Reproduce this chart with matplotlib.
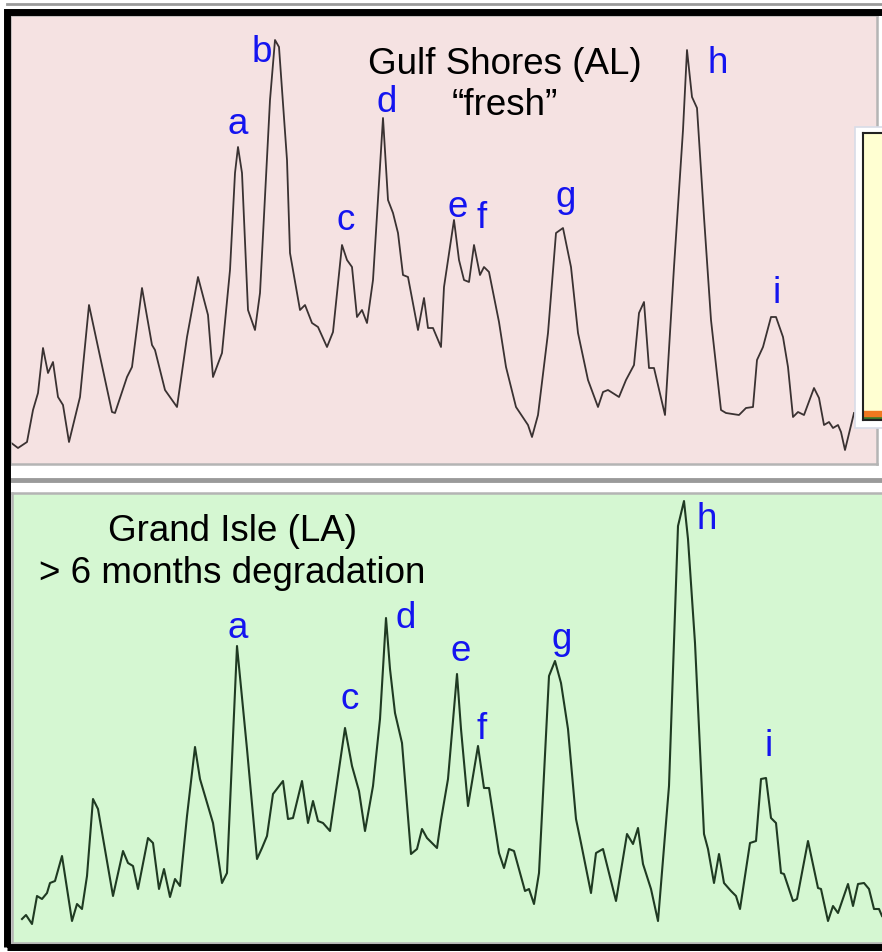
import matplotlib
matplotlib.use("Agg")
import matplotlib.pyplot as plt
from matplotlib.patches import Rectangle

plt.rcParams["font.family"] = ["Liberation Sans", "DejaVu Sans"]

# scan position and signal height for the two chromatograms
fresh_scan = [10, 18, 27, 33, 38, 43, 48, 53, 58, 63,
              69, 80, 89, 98, 112, 115, 127, 132, 142, 152,
              155, 165, 177, 187, 198, 208, 213, 222, 230, 235,
              238, 242, 248, 255, 260, 270, 275, 279, 287, 290,
              300, 305, 312, 318, 327, 333, 342, 347, 352, 357,
              362, 367, 373, 383, 388, 393, 398, 403, 408, 418,
              424, 428, 433, 441, 444, 454, 459, 464, 469, 474,
              480, 484, 489, 499, 506, 516, 528, 532, 538, 548,
              556, 563, 571, 578, 588, 598, 603, 608, 619, 626,
              634, 639, 644, 649, 654, 665, 674, 683, 687, 692,
              697, 704, 711, 721, 726, 739, 746, 753, 757, 763,
              771, 776, 783, 788, 793, 798, 804, 814, 819, 824,
              829, 833, 838, 841, 845, 854]
fresh_signal = [22, 16, 22, 54, 71, 116, 91, 102, 67, 59,
                22, 67, 159, 117, 52, 51, 87, 97, 176, 119,
                114, 74, 57, 127, 187, 149, 87, 111, 194, 291,
                317, 291, 154, 134, 171, 364, 424, 417, 304, 211,
                154, 159, 141, 137, 117, 132, 219, 204, 197, 147,
                154, 141, 184, 346, 264, 251, 231, 189, 187, 134,
                166, 136, 136, 117, 177, 244, 204, 184, 182, 219,
                189, 197, 192, 142, 97, 57, 39, 27, 49, 131,
                231, 236, 197, 131, 84, 57, 72, 74, 67, 84,
                99, 151, 162, 96, 96, 49, 197, 334, 414, 367,
                356, 247, 144, 54, 51, 49, 56, 57, 104, 117,
                147, 147, 127, 97, 47, 52, 49, 76, 66, 39,
                42, 36, 39, 32, 14, 51]

aged_scan = [22, 26, 32, 37, 42, 47, 50, 55, 62, 72,
             77, 82, 87, 93, 98, 113, 123, 128, 133, 138,
             148, 153, 159, 164, 170, 175, 180, 187, 195, 200,
             213, 222, 227, 237, 247, 257, 262, 267, 273, 283,
             288, 293, 302, 308, 313, 318, 323, 330, 345, 352,
             359, 365, 373, 380, 386, 390, 395, 402, 411, 417,
             422, 427, 437, 441, 448, 457, 461, 468, 478, 484,
             489, 499, 504, 509, 514, 525, 529, 534, 539, 549,
             555, 561, 568, 576, 581, 591, 596, 603, 616, 627,
             633, 638, 643, 651, 658, 669, 678, 684, 688, 695,
             704, 708, 714, 719, 724, 731, 736, 740, 750, 756,
             761, 766, 771, 776, 781, 784, 793, 797, 808, 818,
             821, 828, 833, 838, 848, 853, 858, 864, 869, 874,
             879, 882]
aged_signal = [24, 28, 19, 47, 44, 50, 60, 62, 87, 22,
               39, 34, 67, 144, 134, 47, 92, 80, 77, 54,
               105, 100, 54, 74, 46, 64, 57, 127, 196, 164,
               120, 60, 70, 297, 194, 84, 95, 107, 149, 162,
               124, 125, 162, 120, 142, 122, 120, 112, 215, 177,
               152, 112, 157, 224, 325, 274, 230, 200, 89, 94,
               114, 105, 95, 123, 164, 269, 214, 137, 197, 155,
               155, 90, 75, 94, 92, 52, 54, 39, 70, 267,
               282, 260, 214, 124, 100, 50, 90, 94, 42, 109,
               99, 115, 79, 54, 22, 157, 417, 442, 404, 300,
               109, 94, 60, 89, 60, 52, 47, 34, 100, 102,
               164, 165, 125, 120, 70, 69, 42, 44, 102, 55,
               54, 22, 37, 30, 59, 37, 59, 60, 54, 34,
               34, 27]

# peak letters and where they sit
fresh_peaks = ["a", "b", "c", "d", "e", "f", "g", "h", "i"]
fresh_peak_pos = [(238, 330), (262, 402), (346, 234), (387, 352), (458, 247),
                  (482, 236), (566, 257), (718, 391), (777, 161)]
aged_peaks = ["a", "c", "d", "e", "f", "g", "h", "i"]
aged_peak_pos = [(238, 305), (350, 234), (406, 315), (461, 282), (482, 204),
                 (562, 294), (707, 414), (769, 187)]

W, H = 882, 952
fig = plt.figure(figsize=(W / 100, H / 100), dpi=100)
fig.patch.set_facecolor("white")


def px_rect(x0, y0, x1, y1):
    # figure-fraction rect from pixel box (y measured from the top)
    return [x0 / W, (H - y1) / H, (x1 - x0) / W, (y1 - y0) / H]


def style_panel(ax, face):
    ax.set_facecolor(face)
    ax.set_xticks([])
    ax.set_yticks([])
    for sp in ax.spines.values():
        sp.set_color("#b4b4b4")
        sp.set_linewidth(1.8)


label_kw = dict(color="#1414f0", fontsize=26.5, ha="center", va="baseline")
title_kw = dict(color="black", fontsize=26.5, ha="center", va="baseline")

# top panel: fresh oil
ax1 = fig.add_axes(px_rect(10, 15, 877, 464))
style_panel(ax1, "#f5e2e2")
ax1.plot(fresh_scan, fresh_signal, color="#3a3232", lw=1.3)
ax1.set_xlim(10, 877)
ax1.set_ylim(0, 449)
ax1.text(505, 390, "Gulf Shores (AL)", **title_kw)
ax1.text(505, 349, "\u201cfresh\u201d", **title_kw)
for lab, (x, y) in zip(fresh_peaks, fresh_peak_pos):
    ax1.text(x, y, lab, **label_kw)

# bottom panel: weathered oil
ax2 = fig.add_axes(px_rect(12, 493, 885, 943))
style_panel(ax2, "#d5f7d2")
ax2.plot(aged_scan, aged_signal, color="#1f3a22", lw=1.5)
ax2.set_xlim(12, 885)
ax2.set_ylim(0, 450)
ax2.text(233, 402, "Grand Isle (LA)", **title_kw)
ax2.text(232, 360, "> 6 months degradation", **title_kw)
for lab, (x, y) in zip(aged_peaks, aged_peak_pos):
    ax2.text(x, y, lab, **label_kw)

# clipped inset window on the right of the top panel
fig.add_artist(Rectangle((855 / W, (H - 428) / H), 40 / W, 301 / H,
                         transform=fig.transFigure, facecolor="white",
                         edgecolor="#d8dce8", lw=1.2, zorder=1))
ax3 = fig.add_axes(px_rect(863, 133, 890, 420))
ax3.set_zorder(2)
ax3.set_facecolor("#ffffd2")
ax3.set_xticks([])
ax3.set_yticks([])
for sp in ax3.spines.values():
    sp.set_color("#222222")
    sp.set_linewidth(1.5)
ax3.axhspan(0, 1.5, color="#3a7a2a")
ax3.axhspan(1.5, 3, color="#f07820")
ax3.set_ylim(0, 100)

# gray rules and heavy black frame
fig.add_artist(plt.Line2D([7 / W, 1], [(H - 4) / H] * 2, transform=fig.transFigure,
                          color="#9a9a9a", lw=2, zorder=3))
fig.add_artist(plt.Line2D([10 / W, 1], [(H - 480) / H] * 2, transform=fig.transFigure,
                          color="#9a9a9a", lw=3.5, zorder=3))
fig.add_artist(Rectangle((6.5 / W, (H - 947) / H), 890 / W, 935 / H,
                         transform=fig.transFigure, facecolor="none",
                         edgecolor="black", lw=5, zorder=4))

fig.savefig("out.png", dpi=100)
